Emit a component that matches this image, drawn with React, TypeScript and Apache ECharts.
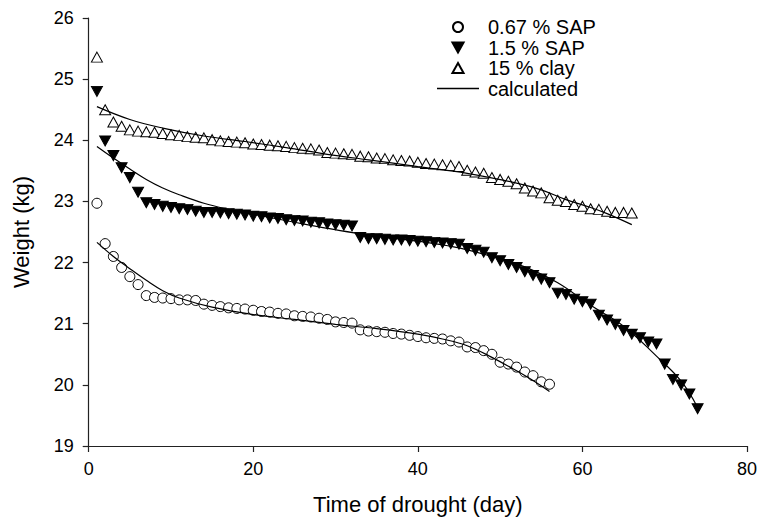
import React, { useEffect, useRef } from "react";
import * as echarts from "echarts";

// Measured weights (kg), one value per day starting at day 1
const sap067: number[] = [
  22.97, 22.31, 22.10, 21.92, 21.77, 21.64, 21.46, 21.43, 21.42, 21.41,
  21.39, 21.39, 21.38, 21.32, 21.30, 21.28, 21.26, 21.25, 21.24, 21.22,
  21.20, 21.19, 21.17, 21.16, 21.13, 21.12, 21.11, 21.09, 21.07, 21.03,
  21.02, 21.01, 20.90, 20.88, 20.87, 20.86, 20.84, 20.83, 20.81, 20.79,
  20.77, 20.76, 20.75, 20.72, 20.70, 20.62, 20.61, 20.56, 20.50, 20.37,
  20.34, 20.29, 20.21, 20.15, 20.05, 20.01,
];

const sap15: number[] = [
  24.80, 23.99, 23.75, 23.55, 23.39, 23.15, 22.98, 22.95, 22.92, 22.90,
  22.88, 22.87, 22.84, 22.82, 22.82, 22.81, 22.80, 22.79, 22.78, 22.76,
  22.75, 22.73, 22.72, 22.70, 22.69, 22.68, 22.66, 22.65, 22.63, 22.62,
  22.61, 22.60, 22.41, 22.39, 22.39, 22.38, 22.37, 22.37, 22.36, 22.35,
  22.34, 22.33, 22.32, 22.31, 22.30, 22.23, 22.20, 22.17, 22.08, 22.03,
  21.97, 21.92, 21.85, 21.79, 21.73, 21.67, 21.50, 21.48, 21.40, 21.36,
  21.32, 21.14, 21.06, 20.99, 20.89, 20.83, 20.77, 20.70, 20.67, 20.34,
  20.09, 20.00, 19.85, 19.61,
];

const clay15: number[] = [
  25.36, 24.50, 24.30, 24.23, 24.17, 24.15, 24.14, 24.13, 24.11, 24.09,
  24.08, 24.06, 24.05, 24.04, 24.01, 23.99, 23.98, 23.97, 23.96, 23.94,
  23.93, 23.92, 23.91, 23.90, 23.88, 23.87, 23.86, 23.84, 23.80, 23.79,
  23.78, 23.77, 23.74, 23.73, 23.71, 23.70, 23.68, 23.67, 23.66, 23.64,
  23.62, 23.61, 23.60, 23.59, 23.57, 23.51, 23.48, 23.46, 23.39, 23.36,
  23.33, 23.29, 23.22, 23.17, 23.14, 23.06, 23.02, 23.00, 22.95, 22.92,
  22.88, 22.87, 22.84, 22.82, 22.82, 22.81,
];

// Calculated (fitted) curves: [day, kg]
const calc067: [number, number][] = [
  [1, 22.33], [3, 22.1], [5, 21.9], [7, 21.71], [9, 21.54], [11, 21.42],
  [15, 21.27], [20, 21.15], [25, 21.07], [30, 20.99], [35, 20.92],
  [40, 20.83], [43, 20.75], [46, 20.64], [49, 20.45], [52, 20.23],
  [54, 20.07], [56, 19.89],
];
const calc15: [number, number][] = [
  [1, 23.9], [3, 23.71], [5, 23.53], [7, 23.36], [9, 23.22], [11, 23.11],
  [14, 22.97], [17, 22.87], [20, 22.79], [25, 22.66], [29, 22.56],
  [33, 22.47], [37, 22.4], [41, 22.33], [45, 22.24], [50, 22.06],
  [53, 21.93], [57, 21.67], [61, 21.3], [65, 20.96], [69, 20.47],
  [72, 20.06], [74, 19.63],
];
const calcClay: [number, number][] = [
  [1, 24.55], [5, 24.34], [9, 24.2], [14, 24.07], [19, 23.98], [24, 23.88],
  [29, 23.77], [34, 23.68], [40, 23.57], [46, 23.46], [52, 23.3],
  [55, 23.19], [58, 23.03], [61, 22.9], [63, 22.8], [66, 22.62],
];

const xTicks = { min: 0, max: 80, interval: 20 };
const yTicks = { min: 19, max: 26, interval: 1 };

const toPairs = (vals: number[]) => vals.map((v, i) => [i + 1, v]);

const FONT = "'Liberation Sans', Arial, sans-serif";
const DOWN = "path://M0,0L10,0L5,9Z";
const UP = "path://M5,0L10,9L0,9Z";
const LINE_ICON = "path://M0,0L42,0L42,1.3L0,1.3Z";

export default function App() {
  const ref = useRef<HTMLDivElement>(null);
  useEffect(() => {
    if (!ref.current) return;
    const chart = echarts.init(ref.current, undefined, { renderer: "svg" });
    const lineStyle = { color: "#000", width: 1.2 };
    chart.setOption({
      animation: false,
      backgroundColor: "#fff",
      textStyle: { fontFamily: FONT, color: "#000" },
      grid: { left: 88.7, right: 10, top: 18, bottom: 73, containLabel: false },
      legend: {
        orient: "vertical",
        left: 432,
        top: 12,
        itemWidth: 42,
        itemHeight: 10,
        itemGap: 0.5,
        textStyle: { fontSize: 20, fontFamily: FONT, color: "#000", padding: [0, 0, 0, 4] },
        data: [
          { name: "0.67 % SAP" },
          { name: "1.5 % SAP" },
          { name: "15 % clay" },
          { name: "calculated", icon: LINE_ICON },
        ],
      },
      xAxis: {
        type: "value",
        min: xTicks.min,
        max: xTicks.max,
        interval: xTicks.interval,
        name: "Time of drought (day)",
        nameLocation: "middle",
        nameGap: 47,
        nameTextStyle: { fontSize: 22, fontFamily: FONT, color: "#000" },
        axisLine: { show: true, onZero: false, lineStyle: { color: "#222", width: 1.2 } },
        axisTick: { show: true, inside: false, length: 6, lineStyle: { color: "#222", width: 1.2 } },
        axisLabel: { fontSize: 18, fontFamily: FONT, color: "#000", margin: 14 },
        splitLine: { show: false },
      },
      yAxis: {
        type: "value",
        min: yTicks.min,
        max: yTicks.max,
        interval: yTicks.interval,
        name: "Weight (kg)",
        nameLocation: "middle",
        nameGap: 56,
        nameTextStyle: { fontSize: 22, fontFamily: FONT, color: "#000" },
        axisLine: { show: true, onZero: false, lineStyle: { color: "#222", width: 1.2 } },
        axisTick: { show: true, inside: false, length: 6, lineStyle: { color: "#222", width: 1.2 } },
        axisLabel: { fontSize: 18, fontFamily: FONT, color: "#000", margin: 15 },
        splitLine: { show: false },
      },
      series: [
        {
          name: "calculated", type: "line", data: calc067, smooth: 0.4,
          symbol: "none", lineStyle, itemStyle: { color: "#000" }, z: 3,
        },
        {
          name: "calculated", type: "line", data: calc15, smooth: 0.4,
          symbol: "none", lineStyle, itemStyle: { color: "#000" }, z: 3,
        },
        {
          name: "calculated", type: "line", data: calcClay, smooth: 0.4,
          symbol: "none", lineStyle, itemStyle: { color: "#000" }, z: 3,
        },
        {
          name: "0.67 % SAP", type: "scatter", data: toPairs(sap067),
          symbol: "circle", symbolSize: 10,
          itemStyle: { color: "#fff", borderColor: "#000", borderWidth: 1, opacity: 1 }, z: 2,
        },
        {
          name: "1.5 % SAP", type: "scatter", data: toPairs(sap15),
          symbol: DOWN, symbolSize: [11, 10],
          itemStyle: { color: "#000", borderColor: "#000", borderWidth: 1, opacity: 1 }, z: 2,
        },
        {
          name: "15 % clay", type: "scatter", data: toPairs(clay15),
          symbol: UP, symbolSize: [11, 10],
          itemStyle: { color: "#fff", borderColor: "#000", borderWidth: 1, opacity: 1 }, z: 2,
        },
      ],
    });
    return () => chart.dispose();
  }, []);
  return (
    <div
      ref={ref}
      style={{ position: "fixed", left: 0, top: 0, width: 760, height: 520, background: "#fff" }}
    />
  );
}
